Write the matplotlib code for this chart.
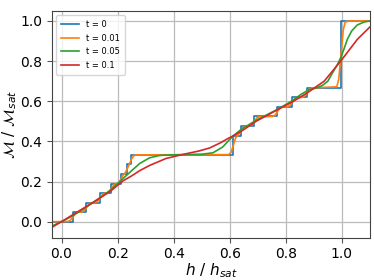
import matplotlib
matplotlib.use("Agg")
import matplotlib.pyplot as plt

labels = ["t = 0", "t = 0.01", "t = 0.05", "t = 0.1"]
colors = ["#1f77b4", "#ff7f0e", "#2ca02c", "#d62728"]

# t = 0 : staircase (field where each step occurs, and plateau value after it)
step_h = [-0.03, 0.041, 0.089, 0.138, 0.178, 0.213, 0.234, 0.249,
          0.613, 0.640, 0.688, 0.770, 0.823, 0.875, 0.997, 1.1]
step_m = [0.0, 0.048, 0.095, 0.143, 0.190, 0.238, 0.286, 0.333,
          0.429, 0.476, 0.524, 0.571, 0.619, 0.667, 1.0, 1.0]

# t = 0.01
orange_h = [-0.03, 0.024, 0.032, 0.041, 0.050, 0.058,
            0.072, 0.080, 0.089, 0.098, 0.106,
            0.121, 0.129, 0.138, 0.147, 0.155,
            0.163, 0.170, 0.178, 0.186, 0.194,
            0.200, 0.206, 0.213, 0.220, 0.226,
            0.234, 0.241, 0.249, 0.257, 0.266,
            0.596, 0.605, 0.613, 0.621, 0.630, 0.640, 0.648, 0.656,
            0.671, 0.680, 0.688, 0.696, 0.705,
            0.753, 0.762, 0.770, 0.778, 0.787,
            0.806, 0.815, 0.823, 0.831, 0.840,
            0.858, 0.867, 0.875, 0.883, 0.892,
            0.982, 0.989, 0.997, 1.005, 1.012, 1.025, 1.1]
orange_m = [0.0, 0.001, 0.008, 0.024, 0.040, 0.047,
            0.048, 0.055, 0.071, 0.087, 0.094,
            0.095, 0.102, 0.119, 0.136, 0.142,
            0.143, 0.150, 0.166, 0.182, 0.189,
            0.191, 0.198, 0.214, 0.232, 0.240,
            0.262, 0.283, 0.310, 0.327, 0.333,
            0.334, 0.345, 0.381, 0.417, 0.432, 0.452, 0.470, 0.476,
            0.477, 0.484, 0.500, 0.516, 0.523,
            0.524, 0.531, 0.548, 0.564, 0.571,
            0.572, 0.579, 0.595, 0.611, 0.618,
            0.619, 0.626, 0.643, 0.659, 0.666,
            0.672, 0.710, 0.833, 0.955, 0.994, 1.0, 1.0]

# t = 0.05
green_h = [-0.034, 0.0, 0.041, 0.089, 0.138, 0.175, 0.208, 0.243, 0.279,
           0.314, 0.35, 0.40, 0.50, 0.54, 0.575, 0.60, 0.613, 0.641, 0.694,
           0.771, 0.824, 0.855, 0.884, 0.907, 0.93, 0.95, 0.966, 0.985,
           0.997, 1.01, 1.02, 1.035, 1.055, 1.08, 1.1]
green_m = [-0.022, 0.0, 0.030, 0.073, 0.120, 0.158, 0.200, 0.245, 0.290,
           0.318, 0.330, 0.333, 0.336, 0.343, 0.372, 0.410, 0.428, 0.460, 0.505,
           0.560, 0.603, 0.635, 0.658, 0.665, 0.678, 0.700, 0.740, 0.785,
           0.820, 0.870, 0.910, 0.950, 0.980, 0.995, 1.0]

# t = 0.1
red_h = [-0.034, 0.0, 0.05, 0.108, 0.173, 0.219, 0.25, 0.28, 0.314, 0.373,
         0.433, 0.49, 0.528, 0.57, 0.593, 0.613, 0.641, 0.694, 0.771, 0.824,
         0.878, 0.937, 0.996, 1.055, 1.1]
red_m = [-0.028, 0.0, 0.043, 0.092, 0.150, 0.203, 0.228, 0.255, 0.280, 0.315,
         0.335, 0.352, 0.367, 0.395, 0.414, 0.428, 0.450, 0.500, 0.558, 0.597,
         0.643, 0.700, 0.800, 0.908, 0.970]

xticks = [0.0, 0.2, 0.4, 0.6, 0.8, 1.0]
yticks = [0.0, 0.2, 0.4, 0.6, 0.8, 1.0]

fig = plt.figure(figsize=(3.74, 2.80), dpi=100)
ax = fig.add_axes([0.139, 0.151, 0.850, 0.810])

ax.plot(step_h, step_m, drawstyle="steps-post", color=colors[0], lw=1.2, label=labels[0])
ax.plot(orange_h, orange_m, color=colors[1], lw=1.2, label=labels[1])
ax.plot(green_h, green_m, color=colors[2], lw=1.2, label=labels[2])
ax.plot(red_h, red_m, color=colors[3], lw=1.2, label=labels[3])

ax.set_xlim(-0.034, 1.1)
ax.set_ylim(-0.08, 1.05)
ax.set_xticks(xticks)
ax.set_yticks(yticks)
ax.grid(True, color="#bbbbbb", lw=0.9)
ax.tick_params(labelsize=10, length=3.5, color="#555555")
for s in ax.spines.values():
    s.set_color("#444444")
ax.set_xlabel(r"$h$ / $h_{sat}$", fontsize=11, labelpad=0)
ax.set_ylabel(r"$\mathcal{M}$ / $\mathcal{M}_{sat}$", fontsize=11, labelpad=1)
ax.legend(loc="upper left", fontsize=6, handlelength=2.2, borderpad=0.6,
          labelspacing=0.55, framealpha=0.8)

fig.savefig("out.png", dpi=100)
